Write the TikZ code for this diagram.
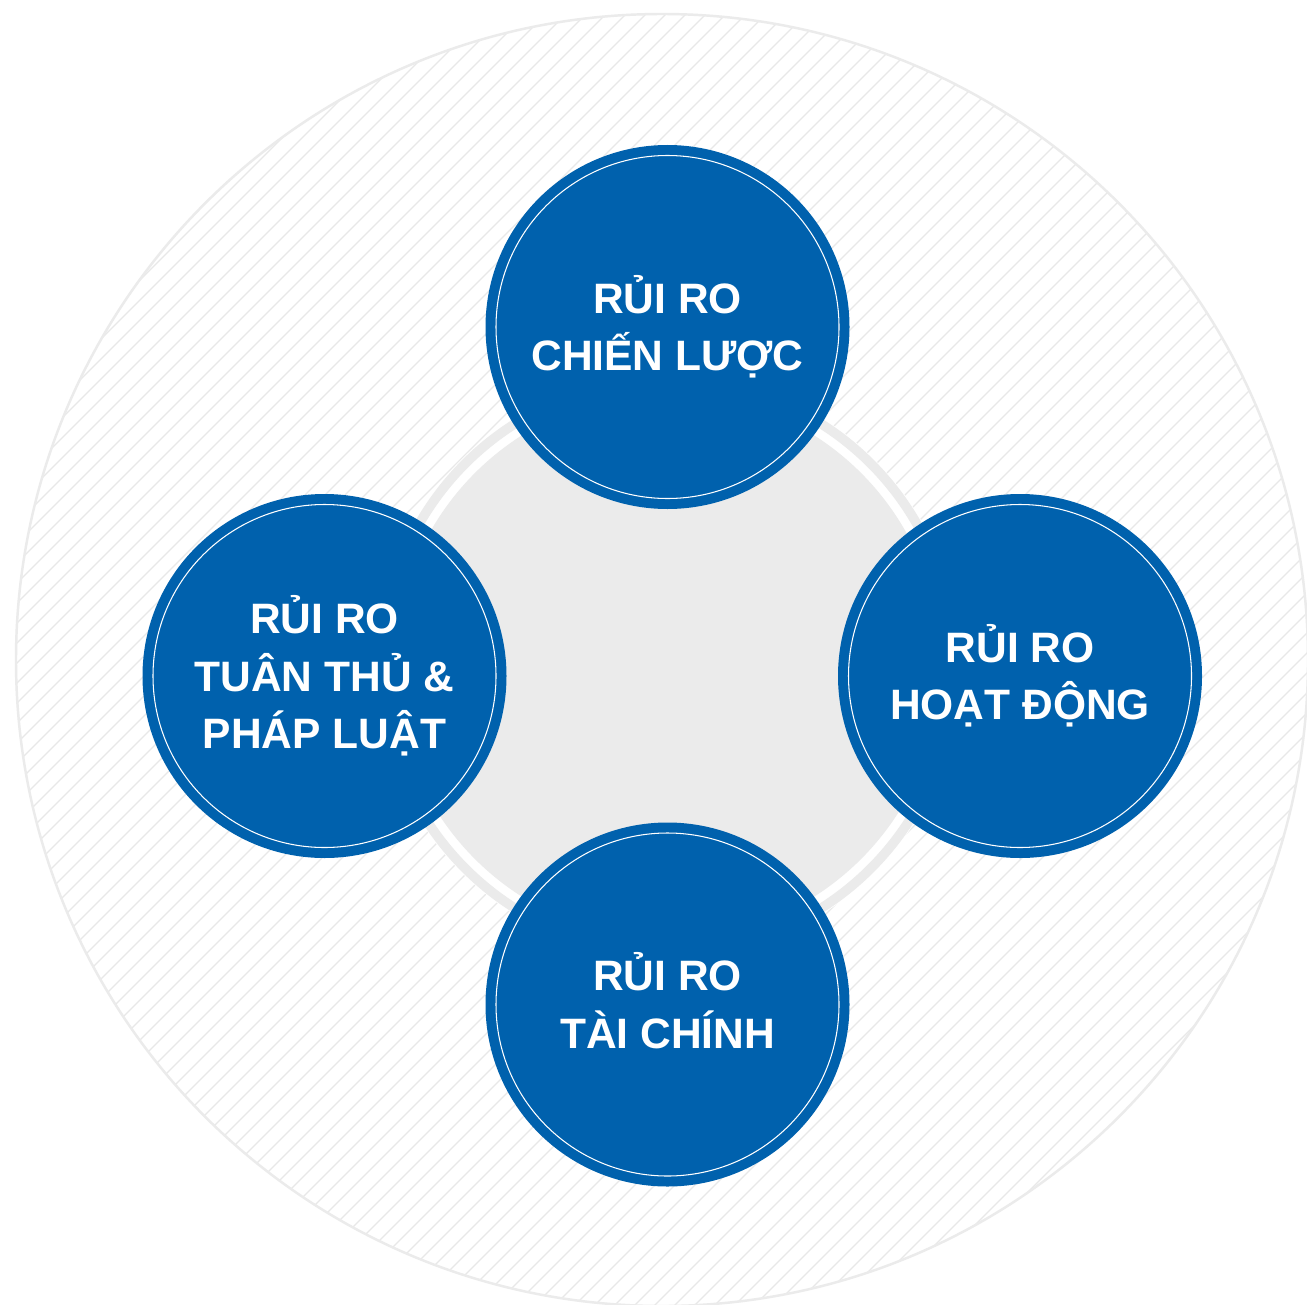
\documentclass[tikz,border=0pt]{standalone}
\usepackage{fontspec}
\setmainfont{Liberation Sans}
\definecolor{riskblue}{RGB}{0,97,173}
\definecolor{lightgray}{RGB}{235,235,235}
\definecolor{hatchgray}{RGB}{232,232,232}
\begin{document}
\begin{tikzpicture}[x=0.02cm,y=-0.02cm,
  riskcircle/.style={circle, fill=riskblue, draw=none, minimum size=364*0.02cm, inner sep=0pt},
  innerline/.style={draw=white, line width=0.6pt},
  risktext/.style={text=white, align=center, inner sep=0pt,
    font=\fontsize{24.2}{33}\selectfont\bfseries}]
\useasboundingbox (0,0) rectangle (1307,1304);
\fill[white] (0,0) rectangle (1307,1304);
% outer hatched disc
\begin{scope}
  \clip (662,660) circle (646);
  \foreach \k in {0,20,...,2720} {
    \draw[hatchgray, line width=0.75pt] (\k,0) -- (\k-1400,1400);
  }
\end{scope}
\draw[lightgray, line width=1.4pt] (662,660) circle (646);
% central gray disc with ring
\fill[white] (668,666) circle (292);
\draw[lightgray, line width=5.4pt] (668,666) circle (286.5);
\fill[lightgray] (668,666) circle (273);
% blue circles
\node[riskcircle] (top) at (667.5,327) {};
\node[riskcircle] (left) at (324.5,676) {};
\node[riskcircle] (right) at (1020,676) {};
\node[riskcircle] (bottom) at (667.5,1004.5) {};
\foreach \c in {top,left,right,bottom} {
  \draw[innerline] (\c.center) circle (171.5);
}
% texts
\node[risktext] (ttop) at (667.5,342) {\smash{RỦI RO}\\\smash{CHIẾN LƯỢC}};
\node[risktext] (tleft) at (324.5,691) {\smash{RỦI RO}\\TUÂN THỦ \&\\\smash{PHÁP LUẬT}};
\node[risktext] (tright) at (1020,691) {\smash{RỦI RO}\\\smash{HOẠT ĐỘNG}};
\node[risktext] (tbottom) at (667.5,1019.5) {\smash{RỦI RO}\\\smash{TÀI CHÍNH}};
\end{tikzpicture}
\end{document}
